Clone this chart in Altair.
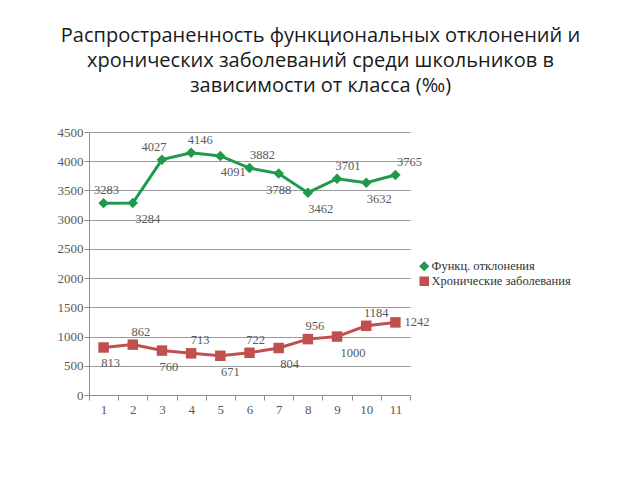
import altair as alt
import pandas as pd

grades = [str(i) for i in range(1, 12)]
func_vals = [3283, 3284, 4027, 4146, 4091, 3882, 3788, 3462, 3701, 3632, 3765]
chron_vals = [813, 862, 760, 713, 671, 722, 804, 956, 1000, 1184, 1242]
series_names = ["Функц. отклонения", "Хронические заболевания"]
# label placement style per point (above / below / right) and horizontal nudge in px
func_pos = ["above", "below", "above", "above", "below", "above", "below", "below", "above", "below", "above"]
chron_pos = ["below", "above", "below", "above", "below", "above", "below", "above", "below", "above", "right"]
func_dx = [3, 15, -8, 9, 13, 13, 0, 13, 11, 13, 14]
chron_dx = [7, 8, 7, 9, 10, 6, 11, 7, 16, 10, 0]

rows = []
for i, g in enumerate(grades):
    rows.append({"grade": g, "value": func_vals[i], "series": series_names[0], "pos": func_pos[i], "dx": func_dx[i], "order": i})
    rows.append({"grade": g, "value": chron_vals[i], "series": series_names[1], "pos": chron_pos[i], "dx": chron_dx[i], "order": i})
df = pd.DataFrame(rows)

green = "#1f9a4c"
red = "#c0504d"
color_scale = alt.Scale(domain=series_names, range=[green, red])
shape_scale = alt.Scale(domain=series_names, range=["diamond", "square"])

legend = alt.Legend(title=None, orient="none", legendX=329, legendY=128,
                    labelFont="Liberation Serif", labelFontSize=12.5,
                    labelColor="#333333", symbolSize=65, rowPadding=0,
                    symbolOffset=0, labelOffset=1, padding=0)

x = alt.X("grade:O", sort=grades, title=None,
          scale=alt.Scale(paddingInner=0, paddingOuter=0),
          axis=alt.Axis(labelAngle=0, tickBand="extent", grid=False, domainColor="#8c8c8c",
                        tickColor="#8c8c8c", tickSize=5, labelFont="Liberation Serif",
                        labelFontSize=13, labelColor="#595959", labelPadding=3))
y = alt.Y("value:Q", title=None,
          scale=alt.Scale(domain=[0, 4500], nice=False),
          axis=alt.Axis(values=list(range(0, 4501, 500)), format="d", gridColor="#9a9a9a",
                        domainColor="#8c8c8c", tickColor="#8c8c8c", tickSize=5,
                        labelFont="Liberation Serif", labelFontSize=13, labelColor="#595959",
                        labelPadding=1))

color = alt.Color("series:N", scale=color_scale, legend=legend)
shape = alt.Shape("series:N", scale=shape_scale, legend=legend)

base = alt.Chart(df)

lines = base.mark_line(strokeWidth=3).encode(
    x=x, y=y, color=color, detail="series:N", order="order:Q")

points = base.mark_point(filled=True, size=110, opacity=1).encode(
    x=x, y=y, color=color, shape=shape)

half_band = 321 / 11 / 2

above = base.transform_filter(alt.datum.pos == "above").transform_calculate(
    off=f"datum.dx + {half_band}").mark_text(
    font="Liberation Serif", fontSize=12.5, color="#595959", dy=-13).encode(
    x=x, y=y, text=alt.Text("value:Q", format="d"), xOffset=alt.XOffset("off:Q", scale=None))
below = base.transform_filter(alt.datum.pos == "below").transform_calculate(
    off=f"datum.dx + {half_band}").mark_text(
    font="Liberation Serif", fontSize=12.5, color="#595959", dy=16).encode(
    x=x, y=y, text=alt.Text("value:Q", format="d"), xOffset=alt.XOffset("off:Q", scale=None))
right = base.transform_filter(alt.datum.pos == "right").mark_text(
    font="Liberation Serif", fontSize=12.5, color="#595959", dx=9, align="left").encode(
    x=x, y=y, text=alt.Text("value:Q", format="d"))

chart = alt.layer(lines, points, above, below, right).properties(
    width=321, height=263,
    autosize=alt.AutoSizeParams(type="none"),
    padding={"left": 81, "top": 124, "right": 220, "bottom": 70},
    title=alt.TitleParams(
        text=["Распространенность функциональных отклонений и",
              "хронических заболеваний среди школьников в",
              "зависимости от класса (‰)"],
        font="Open Sans", fontSize=20, fontWeight="normal", color="#1a1a1a",
        lineHeight=25, anchor="middle", dx=71, offset=30),
).configure_view(stroke=None)

chart.save("out.html", embed_options={"renderer": "svg", "actions": False})
